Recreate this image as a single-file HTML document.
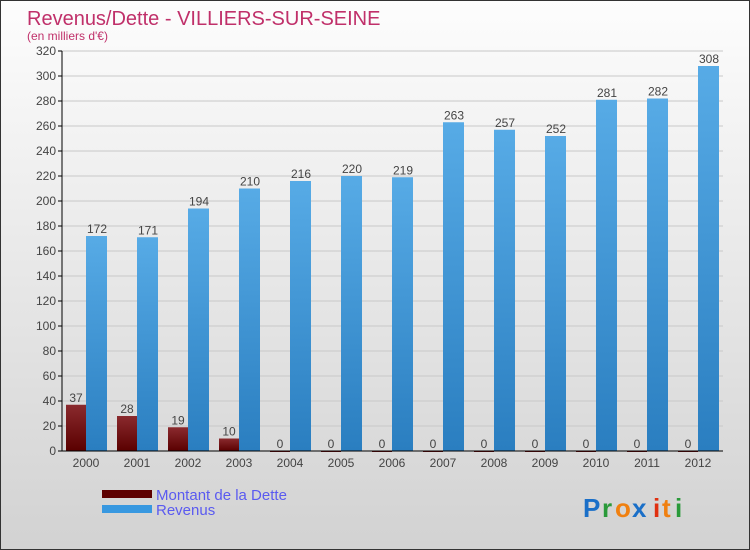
<!DOCTYPE html>
<html><head><meta charset="utf-8"><style>
body{margin:0;}
#wrap{width:748px;height:548px;border:1px solid #333;background:linear-gradient(#fdfdfd,#d2d2d2);position:relative;overflow:hidden;font-family:"Liberation Sans",sans-serif;}
</style></head><body>
<div id="wrap">
<svg id="chart" width="748" height="548">
<defs>
<linearGradient id="gd" x1="0" y1="0" x2="0" y2="1"><stop offset="0" stop-color="#8a2a2e"/><stop offset="1" stop-color="#5a0000"/></linearGradient>
<linearGradient id="gr" x1="0" y1="0" x2="0" y2="1"><stop offset="0" stop-color="#57abe6"/><stop offset="1" stop-color="#2a7ec0"/></linearGradient>
</defs>
<text x="26" y="24" font-size="20" fill="#c0306a">Revenus/Dette - VILLIERS-SUR-SEINE</text>
<text x="26" y="39" font-size="12" fill="#c0306a">(en milliers d'€)</text>
<g id="grid"></g><g id="bars"></g><g id="axes"></g>
<g>
<rect x="101" y="489" width="50" height="8" fill="#5e0000"/>
<text x="155" y="499" font-size="15" fill="#5a5af0">Montant de la Dette</text>
<rect x="101" y="504" width="50" height="8" fill="#3898e0"/>
<text x="155" y="514" font-size="15" fill="#5a5af0">Revenus</text>
</g>
<g font-size="26" font-weight="bold">
<text x="582" y="516" fill="#1a6fc8">P</text><text x="601" y="516" fill="#2a9a3a">r</text><text x="614" y="516" fill="#f08010">o</text><text x="631" y="516" fill="#1a6fc8">x</text><text x="652" y="516" fill="#e03010">i</text><text x="661" y="516" fill="#f08010">t</text><text x="674" y="516" fill="#2a9a3a">i</text>
</g>
</svg>
</div>
<script>
const years=["2000","2001","2002","2003","2004","2005","2006","2007","2008","2009","2010","2011","2012"];
const debt=[37,28,19,10,0,0,0,0,0,0,0,0,0];
const revenue=[172,171,194,210,216,220,219,263,257,252,281,282,308];
const yTicks=[0,20,40,60,80,100,120,140,160,180,200,220,240,260,280,300,320];
const NS="http://www.w3.org/2000/svg";
const y=v=>450-v*400/320;
const x0=i=>65+i*51;
function mk(t,a,p){const e=document.createElementNS(NS,t);for(const k in a)e.setAttribute(k,a[k]);p.appendChild(e);return e;}
const grid=document.getElementById('grid'),bars=document.getElementById('bars'),axes=document.getElementById('axes');
yTicks.forEach(v=>{
 const l=mk('line',{x1:61,x2:722,y1:y(v),y2:y(v),stroke:'#c8c8c8','stroke-width':1},grid);
 
 
 const tk=mk('line',{x1:57,x2:61,y1:y(v),y2:y(v),stroke:'#000'},axes);
 
 
 const t=mk('text',{x:55,y:y(v)+4,'font-size':12,fill:'#444','text-anchor':'end'},axes);t.textContent=v;
 
 
});
years.forEach((yr,i)=>{
 const xd=x0(i);
 const bd=mk('rect',{x:xd,y:y(debt[i]),width:20,height:Math.max(450-y(debt[i]),debt[i]?0:1),fill:'url(#gd)'},bars);
 
 
 const br=mk('rect',{x:xd+20,y:y(revenue[i]),width:21,height:450-y(revenue[i]),fill:'url(#gr)'},bars);
 
 
 const td=mk('text',{x:xd+10,y:y(debt[i])-3,'font-size':12,fill:'#444','text-anchor':'middle'},bars);td.textContent=debt[i];
 
 
 const tr=mk('text',{x:xd+31,y:y(revenue[i])-3,'font-size':12,fill:'#444','text-anchor':'middle'},bars);tr.textContent=revenue[i];
 
 
 const tx=mk('text',{x:xd+20,y:466,'font-size':12,fill:'#444','text-anchor':'middle'},axes);tx.textContent=yr;
 
 
});
const ya=mk('line',{x1:61,x2:61,y1:50,y2:450,stroke:'#000'},axes);


const xa=mk('line',{x1:61,x2:722,y1:450,y2:450,stroke:'#000'},axes);


</script>
</body></html>
